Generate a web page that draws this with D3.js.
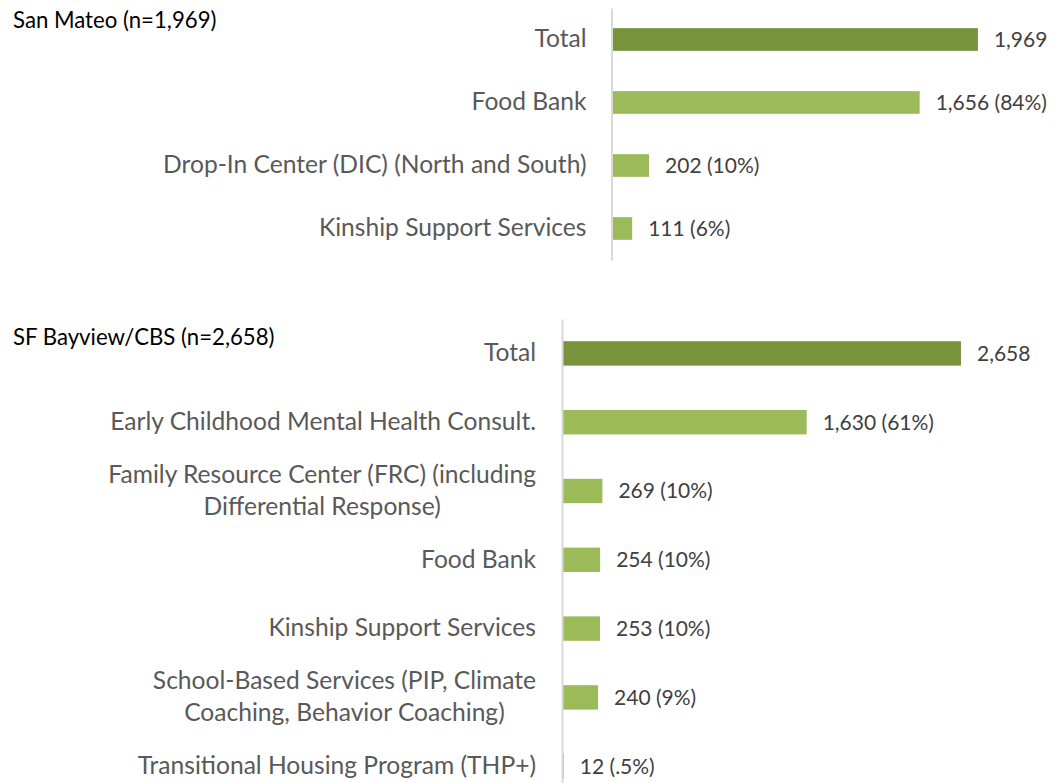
<!DOCTYPE html>
<html>
<head>
<meta charset="utf-8">
<script src="https://cdn.jsdelivr.net/npm/d3@7"></script>
<style>
  body { margin: 0; background: #fff; }
  svg { display: block; }
  svg text { font-family: Lato, "Open Sans", sans-serif; }
</style>
</head>
<body>
<svg id="chart" width="1054" height="783"></svg>
<script>
// San Mateo panel
const smTitle = "San Mateo (n=1,969)";
const smCategories = ["Total", "Food Bank", "Drop-In Center (DIC) (North and South)", "Kinship Support Services"];
const smValues = [1969, 1656, 202, 111];
const smLabels = ["1,969", "1,656 (84%)", "202 (10%)", "111 (6%)"];

// SF Bayview panel
const sfTitle = "SF Bayview/CBS (n=2,658)";
const sfCategories = [
    "Total",
    "Early Childhood Mental Health Consult.",
    "Family Resource Center (FRC) (including\nDifferential Response)",
    "Food Bank",
    "Kinship Support Services",
    "School-Based Services (PIP, Climate\nCoaching, Behavior Coaching)",
    "Transitional Housing Program (THP+)"
];
const sfValues = [2658, 1630, 269, 254, 253, 240, 12];
const sfLabels = ["2,658", "1,630 (61%)", "269 (10%)", "254 (10%)", "253 (10%)", "240 (9%)", "12 (.5%)"];

const svg = d3.select("#chart");

function drawPanel(opts) {
    const { title, categories, values, labels, xMax, xRange, yRange, padInner, titleY, labelGap } = opts;

    const x = d3.scaleLinear()
        .domain([0, xMax])
        .range(xRange);

    const y = d3.scaleBand()
        .domain(categories)
        .range(yRange)
        .paddingInner(padInner)
        .paddingOuter(padInner / 2);

    const g = svg.append("g");

    // bars
    g.selectAll("rect")
        .data(categories)
        .enter()
        .append("rect")
        .attr("x", x(0))
        .attr("y", d => y(d))
        .attr("width", (d, i) => x(values[i]) - x(0))
        .attr("height", y.bandwidth())
        .attr("fill", (d, i) => i === 0 ? "#77933C" : "#9BBB59");

    // category axis
    const axis = g.append("g")
        .attr("transform", `translate(${x(0)},0)`)
        .call(d3.axisLeft(y).tickSize(0).tickSizeOuter(0).tickPadding(labelGap).tickFormat(""))
        .attr("font-family", null)
        .attr("font-size", null);

    axis.select(".domain")
        .attr("stroke", "#d9d9d9")
        .attr("stroke-width", 2);

    // multi-line category labels, lines centred in their block
    axis.selectAll(".tick").each(function (d) {
        const lines = d.split("\n");
        const t = d3.select(this).select("text")
            .attr("fill", "#595959")
            .style("font-size", "24.6px")
            .attr("dy", null);
        lines.forEach((line, k) => {
            t.append("tspan")
                .attr("x", -labelGap)
                .attr("dy", k === 0 ? `${0.32 - (lines.length - 1) * 0.65}em` : "1.3em")
                .text(line);
        });
        if (lines.length > 1) {
            let w = 0;
            t.selectAll("tspan").each(function () { w = Math.max(w, this.getComputedTextLength()); });
            t.attr("text-anchor", "middle");
            t.selectAll("tspan").attr("x", -labelGap - w / 2);
        }
    });

    // value labels
    g.selectAll(".val")
        .data(categories)
        .enter()
        .append("text")
        .attr("class", "val")
        .attr("x", (d, i) => x(values[i]) + 16)
        .attr("y", d => y(d) + y.bandwidth() / 2)
        .attr("dy", "0.35em")
        .attr("fill", "#404040")
        .style("font-size", "21px")
        .text((d, i) => labels[i]);

    // panel title
    g.append("text")
        .attr("x", 13)
        .attr("y", titleY)
        .attr("fill", "#000")
        .style("font-size", "22.2px")
        .text(title);
}

drawPanel({
    title: smTitle,
    categories: smCategories,
    values: smValues,
    labels: smLabels,
    xMax: 2000,
    xRange: [611.5, 983.7],
    yRange: [8, 260],
    padInner: 0.64,
    titleY: 28,
    labelGap: 25
});

drawPanel({
    title: sfTitle,
    categories: sfCategories,
    values: sfValues,
    labels: sfLabels,
    xMax: 3000,
    xRange: [562, 1012.3],
    yRange: [319, 800.6],
    padInner: 0.645,
    titleY: 345,
    labelGap: 26
});
</script>
</body>
</html>
